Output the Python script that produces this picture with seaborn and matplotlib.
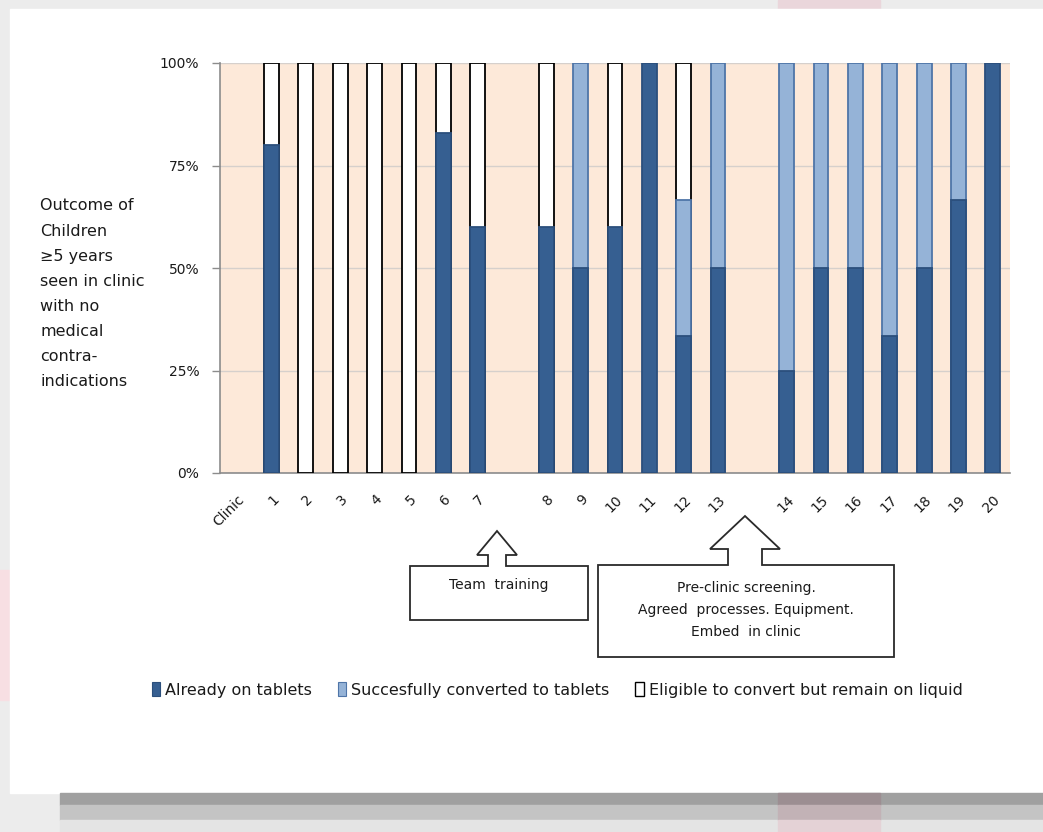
import numpy as np
import pandas as pd
import matplotlib
matplotlib.use("Agg")
import matplotlib.pyplot as plt
import matplotlib.patches as mpatches
from matplotlib.ticker import FixedLocator
import seaborn as sns

# ---------------- data ----------------
slots = ["Clinic", "1", "2", "3", "4", "5", "6", "7", "gap1",
         "8", "9", "10", "11", "12", "13", "gap2",
         "14", "15", "16", "17", "18", "19", "20"]
clinics = ["1", "2", "3", "4", "5", "6", "7", "8", "9", "10",
           "11", "12", "13", "14", "15", "16", "17", "18", "19", "20"]
already_on_tablets = [80, 0, 0, 0, 0, 83, 60, 60, 50, 60,
                      100, 33.3, 50, 25, 50, 50, 33.3, 50, 66.7, 100]
converted_to_tablets = [0, 0, 0, 0, 0, 0, 0, 0, 50, 0,
                        0, 33.3, 50, 75, 50, 50, 66.7, 50, 33.3, 0]
remain_on_liquid = [20, 100, 100, 100, 100, 17, 40, 40, 0, 40,
                    0, 33.4, 0, 0, 0, 0, 0, 0, 0, 0]
series_names = ["Already on tablets", "Succesfully converted to tablets",
                "Eligible to convert but remain on liquid"]
ytick_vals = [0, 25, 50, 75, 100]
ylabel_lines = ["Outcome of", "Children", "\u22655 years", "seen in clinic",
                "with no", "medical", "contra-", "indications"]

# ---------------- styling ----------------
sns.set_theme(style="white")
plt.rcParams["font.family"] = ["DejaVu Sans"]

DARK = "#365F91"
DARK_EDGE = "#2B4F7C"
LIGHT = "#95B3D7"
LIGHT_EDGE = "#4F75A8"
PLOT_BG = "#FDE9D9"
AXIS_C = "#8C8C8C"
TXT = "#1a1a1a"

W, H = 1043, 832
fig = plt.figure(figsize=(W / 100, H / 100), dpi=100, facecolor="#ececec")

def fx(px):
    return px / W

def fy(py):
    return 1 - py / H

def deco(x0, y0, x1, y1, color):
    fig.patches.append(mpatches.Rectangle((fx(x0), fy(y1)), fx(x1) - fx(x0), fy(y0) - fy(y1),
                                          transform=fig.transFigure, color=color, zorder=-10))

# page decorations (screenshot frame)
deco(778, 0, 880, 9, "#ead6db")
deco(0, 570, 10, 700, "#f7dfe3")
deco(10, 9, 1043, 793, "white")
deco(60, 793, 1043, 805, "#a0a0a0")
deco(60, 805, 1043, 820, "#c4c4c4")
deco(60, 820, 1043, 832, "#e4e4e4")
deco(778, 793, 880, 805, "#9c8e92")
deco(778, 805, 880, 820, "#c2b2b6")
deco(778, 820, 880, 832, "#e4d2d6")

ax = fig.add_axes([fx(220), fy(473), fx(1010) - fx(220), fy(63) - fy(473)])
ax.set_zorder(1)
ax.set_facecolor(PLOT_BG)

# cumulative stacking
a = np.array(already_on_tablets, dtype=float)
b = np.array(converted_to_tablets, dtype=float)
c = np.array(remain_on_liquid, dtype=float)
top_white = np.where(c > 0, a + b + c, np.nan)
top_light = np.where(b > 0, a + b, np.nan)
top_dark = np.where(a > 0, a, np.nan)

df = pd.DataFrame({"clinic": clinics, "white": top_white,
                   "light": top_light, "dark": top_dark})

bw = 0.43
lw = 1.3
sns.barplot(data=df.dropna(subset=["white"]), x="clinic", y="white", order=slots,
            color="white", edgecolor="black", linewidth=lw, width=bw,
            saturation=1, ax=ax, zorder=3)
sns.barplot(data=df.dropna(subset=["light"]), x="clinic", y="light", order=slots,
            color=LIGHT, edgecolor=LIGHT_EDGE, linewidth=lw, width=bw,
            saturation=1, ax=ax, zorder=3)
sns.barplot(data=df.dropna(subset=["dark"]), x="clinic", y="dark", order=slots,
            color=DARK, edgecolor=DARK_EDGE, linewidth=lw, width=bw,
            saturation=1, ax=ax, zorder=3)

n = len(slots)
ax.set_xlim(-0.5, n - 0.5)
ax.set_ylim(0, 100)
ax.set_xlabel("")
ax.set_ylabel("")

# gridlines
ax.set_yticks(ytick_vals)
ax.set_yticklabels([f"{v}%" for v in ytick_vals], fontsize=10, color=TXT)
ax.yaxis.grid(True, color="#d6d0cc", linewidth=1.0, zorder=1)
ax.set_axisbelow(True)

# x ticks: labels at centres, tick marks at boundaries
ax.set_xticks(range(n))
ax.set_xticklabels(["" if s.startswith("gap") else s for s in slots],
                   rotation=45, ha="right", rotation_mode="anchor",
                   fontsize=10, color=TXT)
ax.xaxis.set_minor_locator(FixedLocator(np.arange(-0.5, n, 1.0)))
ax.tick_params(axis="x", which="major", length=0, pad=14)
ax.tick_params(axis="x", which="minor", length=5, color=AXIS_C, width=1, direction="out")
ax.tick_params(axis="y", which="major", length=6, color=AXIS_C, width=1,
               direction="out", pad=9, left=True)

for s in ["top", "right"]:
    ax.spines[s].set_visible(False)
for s in ["left", "bottom"]:
    ax.spines[s].set_visible(True)
    ax.spines[s].set_color(AXIS_C)
    ax.spines[s].set_linewidth(1.2)

# y label lines
for i, line in enumerate(ylabel_lines):
    fig.text(fx(40), fy(206 + i * 25.1), line, fontsize=11.5, color=TXT,
             ha="left", va="center")

# annotation callout boxes with up arrows
def callout(box, tip, head_base, head_half, stem_half, lines, text_y):
    x0, y0, x1, y1 = box
    tx, ty = tip
    pts = [(x0, y0), (tx - stem_half, y0), (tx - stem_half, head_base),
           (tx - head_half, head_base), (tx, ty), (tx + head_half, head_base),
           (tx + stem_half, head_base), (tx + stem_half, y0), (x1, y0),
           (x1, y1), (x0, y1)]
    poly = mpatches.Polygon([(fx(px), fy(py)) for px, py in pts], closed=True,
                            transform=fig.transFigure, facecolor="white",
                            edgecolor="#2a2a2a", linewidth=1.3, zorder=5)
    fig.patches.append(poly)
    for j, ln in enumerate(lines):
        fig.text(fx((x0 + x1) / 2), fy(text_y + j * 22), ln, fontsize=10,
                 color=TXT, ha="center", va="center", zorder=6)

callout((410, 566, 588, 620), (497, 531), 555, 20, 9, ["Team  training"], 585)
callout((598, 565, 894, 657), (745, 516), 549, 35, 17,
        ["Pre-clinic screening.", "Agreed  processes. Equipment.", "Embed  in clinic"], 588)

# legend
handles = [mpatches.Patch(facecolor=DARK, edgecolor=DARK_EDGE, linewidth=0.8),
           mpatches.Patch(facecolor=LIGHT, edgecolor=LIGHT_EDGE, linewidth=0.8),
           mpatches.Patch(facecolor="white", edgecolor="black", linewidth=1.0)]
fig.legend(handles, series_names, loc="center", bbox_to_anchor=(fx(557), fy(690)),
           ncol=3, frameon=False, fontsize=11.5, handlelength=0.55, handleheight=1.0,
           handletextpad=0.3, columnspacing=1.6, labelcolor=TXT)

fig.savefig("out.png", dpi=100, facecolor=fig.get_facecolor())
